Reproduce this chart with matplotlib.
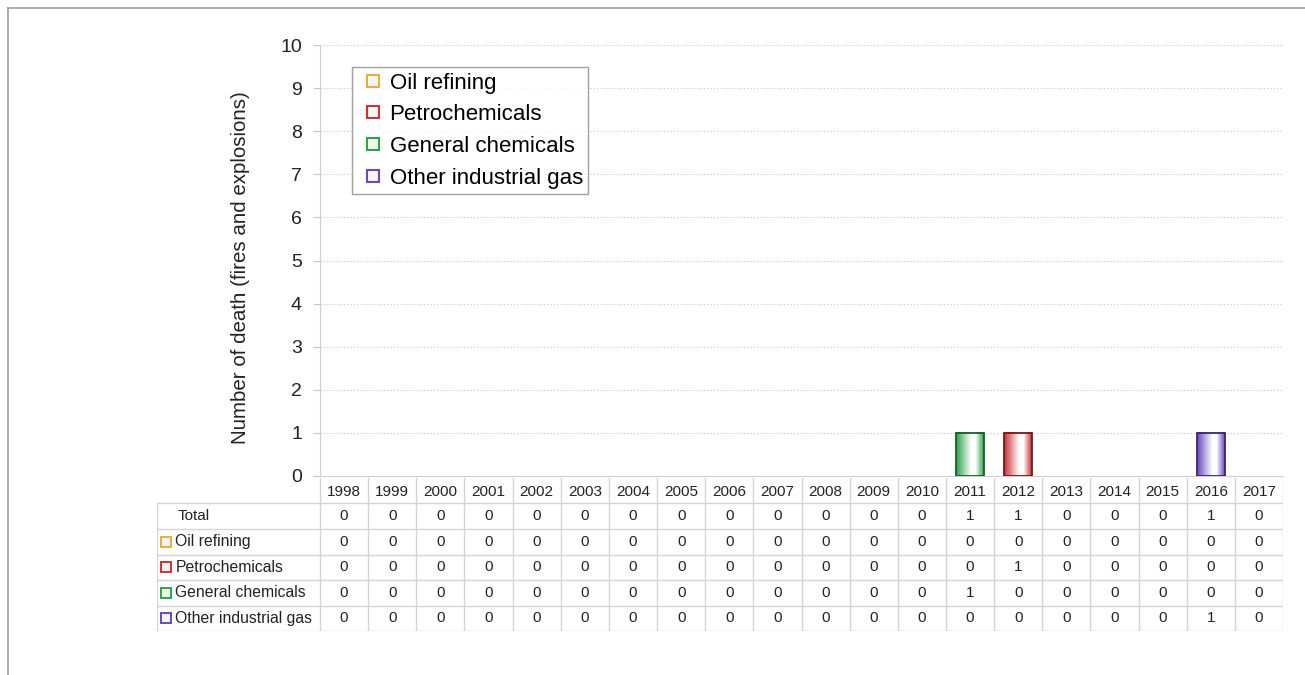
import matplotlib.pyplot as plt
import numpy as np
from matplotlib.colors import LinearSegmentedColormap, to_rgb
from matplotlib.patches import Rectangle
from matplotlib.lines import Line2D

plt.rcParams['font.family'] = ['Liberation Sans', 'DejaVu Sans']

years = list(range(1998, 2018))
oil_refining = [0, 0, 0, 0, 0, 0, 0, 0, 0, 0, 0, 0, 0, 0, 0, 0, 0, 0, 0, 0]
petrochemicals = [0, 0, 0, 0, 0, 0, 0, 0, 0, 0, 0, 0, 0, 0, 1, 0, 0, 0, 0, 0]
general_chemicals = [0, 0, 0, 0, 0, 0, 0, 0, 0, 0, 0, 0, 0, 1, 0, 0, 0, 0, 0, 0]
other_gas = [0, 0, 0, 0, 0, 0, 0, 0, 0, 0, 0, 0, 0, 0, 0, 0, 0, 0, 1, 0]

series = [
    ('Oil refining', oil_refining, '#e0b040', '#8a6a10'),
    ('Petrochemicals', petrochemicals, '#c8343a', '#6e1a1c'),
    ('General chemicals', general_chemicals, '#2fa34e', '#1a5a2a'),
    ('Other industrial gas', other_gas, '#6a48b8', '#3a2670'),
]
total = [sum(v) for v in zip(*[s[1] for s in series])]

W, H = 1305, 675
fig = plt.figure(figsize=(W / 100, H / 100), dpi=100)

# outer frame (only left and top edges visible)
fig.add_artist(Line2D([8 / W, 8 / W], [0, 1 - 8 / H], color='#a0a0a0', lw=1.2))
fig.add_artist(Line2D([8 / W, 1], [1 - 8 / H, 1 - 8 / H], color='#a0a0a0', lw=1.2))

x0, x1, ytop, ybot = 320, 1283, 45, 476
ax = fig.add_axes([x0 / W, 1 - ybot / H, (x1 - x0) / W, (ybot - ytop) / H])
n = len(years)
ax.set_xlim(0, n)
ax.set_ylim(0, 10)
ax.set_yticks(range(0, 11))
ax.tick_params(axis='y', labelsize=14, length=5, color='#c8c8c8', labelcolor='#222222', pad=8)
ax.set_xticks([])
for s in ['top', 'right']:
    ax.spines[s].set_visible(False)
ax.spines['left'].set_color('#cfcfcf')
ax.spines['bottom'].set_color('#cfcfcf')
for y in range(1, 11):
    ax.axhline(y, color='#cccccc', lw=0.8, ls=(0, (1.2, 1.8)), zorder=0)
ax.set_ylabel('Number of death (fires and explosions)', fontsize=14.8, color='#222222', labelpad=22)
ax.yaxis.label.set_y(0.483)


def gradient_cmap(col):
    c = to_rgb(col)
    return LinearSegmentedColormap.from_list('g', [(0, c), (0.55, (1, 1, 1)), (0.7, (1, 1, 1)), (1, c)])


bw = 0.58
bottom = np.zeros(n)
for name, vals, col, edge in series:
    for i, v in enumerate(vals):
        if v <= 0:
            continue
        left = i + 0.5 - bw / 2
        grad = np.linspace(0, 1, 64).reshape(1, -1)
        ax.imshow(grad, cmap=gradient_cmap(col), aspect='auto',
                  extent=(left, left + bw, bottom[i], bottom[i] + v), zorder=2)
        ax.add_patch(Rectangle((left, bottom[i]), bw, v, fill=False, ec=edge, lw=1.3, zorder=3))
    bottom += np.array(vals)
ax.set_xlim(0, n)
ax.set_ylim(0, 10)

handles = [Line2D([], [], ls='none', marker='s', ms=9, mfc='#f6f6f0', mec=col, mew=1.5, label=name)
           for name, vals, col, edge in series]
leg = ax.legend(handles=handles, loc='upper left', bbox_to_anchor=(0.033, 0.949),
                borderaxespad=0, fontsize=16, frameon=True, fancybox=False, edgecolor='#888888',
                handlelength=1.4, handletextpad=0.05,
                labelspacing=0.48, borderpad=0.25)
leg.get_frame().set_linewidth(1.0)

# data table under the axes
lab_w = 163
col_w = (x1 - x0) / n
t_top, t_bot = 478, 631
tax = fig.add_axes([(x0 - lab_w) / W, 1 - t_bot / H, (x1 - x0 + lab_w) / W, (t_bot - t_top) / H])
L = lab_w / col_w
tax.set_xlim(-L, n)
tax.set_ylim(6, 0)
tax.axis('off')
gc = '#d4d4d4'
tax.plot([-L, n], [1, 1], color=gc, lw=1)
for r in range(2, 7):
    tax.plot([-L, n], [r, r], color=gc, lw=1)
tax.plot([-L, -L], [1, 6], color=gc, lw=1)
for c in range(0, n + 1):
    tax.plot([c, c], [0, 6], color=gc, lw=1)

tc = '#222222'
fs = 11
for i, yr in enumerate(years):
    tax.text(i + 0.5, 0.55, str(yr), ha='center', va='center', fontsize=fs, color=tc)

rows = [('Total', total, None)] + [(name, vals, col) for name, vals, col, edge in series]
for r, (name, vals, col) in enumerate(rows, start=1):
    yc = r + 0.5
    if col is None:
        tax.text(-L + 0.42, yc, name, ha='left', va='center', fontsize=fs, color=tc)
    else:
        tax.plot(-L + 0.19, yc, marker='s', ms=7.5, mfc='#f4f4ee', mec=col, mew=1.4)
        tax.text(-L + 0.38, yc, name, ha='left', va='center', fontsize=11.3, color=tc)
    for i, v in enumerate(vals):
        tax.text(i + 0.5, yc, str(v), ha='center', va='center', fontsize=fs, color=tc)

fig.savefig('out.png', dpi=100)
